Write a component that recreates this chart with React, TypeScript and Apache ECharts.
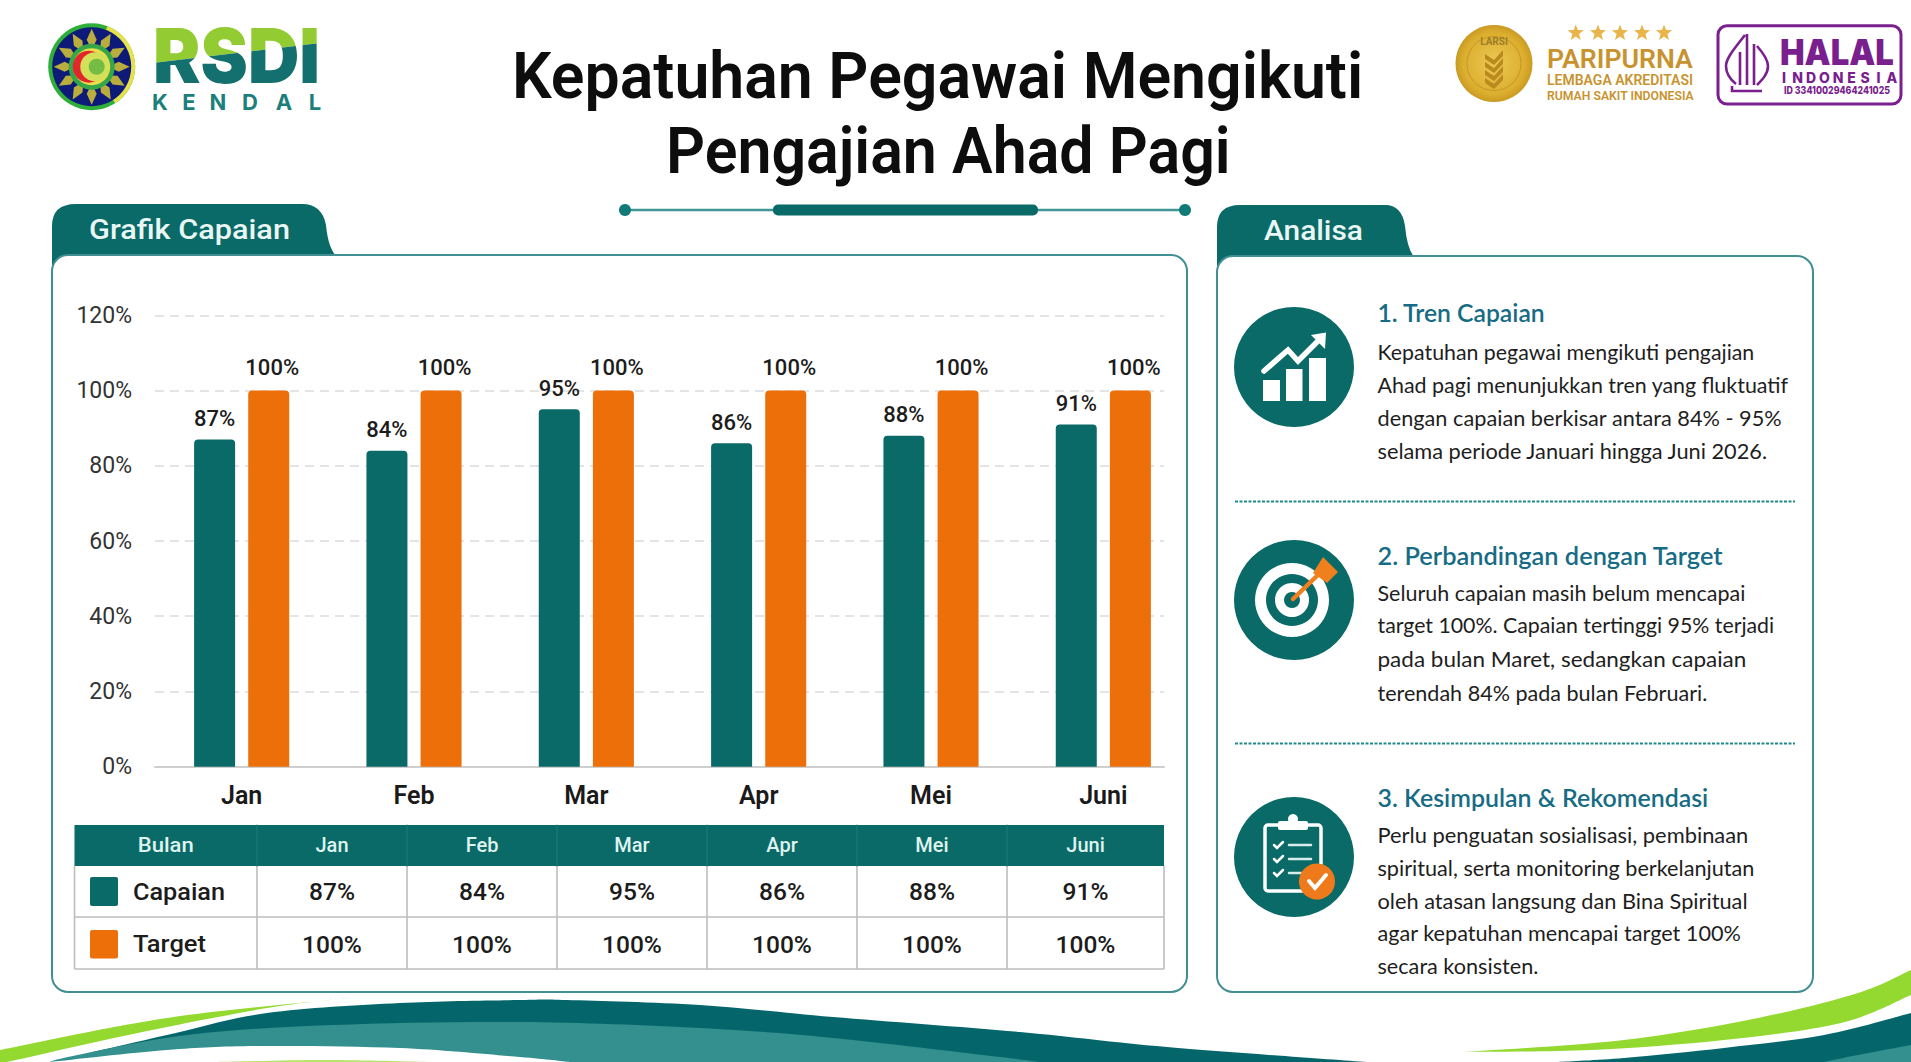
import React, { useEffect, useRef } from "react";
import * as echarts from "echarts";

const categories = ["Jan", "Feb", "Mar", "Apr", "Mei", "Juni"];
const capaian = [87, 84, 95, 86, 88, 91];
const target = [100, 100, 100, 100, 100, 100];
const legendLabels = ["Capaian", "Target"];
const headerFirst = "Bulan";
const titleLines = ["Kepatuhan Pegawai Mengikuti", "Pengajian Ahad Pagi"];
const analysisHeads = ["1. Tren Capaian", "2. Perbandingan dengan Target", "3. Kesimpulan & Rekomendasi"];
const analysis1 = [
  "Kepatuhan pegawai mengikuti pengajian",
  "Ahad pagi menunjukkan tren yang fluktuatif",
  "dengan capaian berkisar antara 84% - 95%",
  "selama periode Januari hingga Juni 2026.",
];
const analysis2 = [
  "Seluruh capaian masih belum mencapai",
  "target 100%. Capaian tertinggi 95% terjadi",
  "pada bulan Maret, sedangkan capaian",
  "terendah 84% pada bulan Februari.",
];
const analysis3 = [
  "Perlu penguatan sosialisasi, pembinaan",
  "spiritual, serta monitoring berkelanjutan",
  "oleh atasan langsung dan Bina Spiritual",
  "agar kepatuhan mencapai target 100%",
  "secara konsisten.",
];

const TEAL = "#0a6a67";
const ORANGE = "#ec6f0a";
const BORDER = "#418f92";
const GREEN = "#93d92f";
const GOLD = "#c8932e";
const PURPLE = "#7a1f8e";

type P = [number, number];
const curve = (pts: P[]) => {
  let d = "";
  for (let i = 0; i < pts.length - 1; i++) {
    const p0 = pts[Math.max(0, i - 1)];
    const p1 = pts[i];
    const p2 = pts[i + 1];
    const p3 = pts[Math.min(pts.length - 1, i + 2)];
    const c1: P = [p1[0] + (p2[0] - p0[0]) / 6, p1[1] + (p2[1] - p0[1]) / 6];
    const c2: P = [p2[0] - (p3[0] - p1[0]) / 6, p2[1] - (p3[1] - p1[1]) / 6];
    d += `C${c1[0]} ${c1[1]} ${c2[0]} ${c2[1]} ${p2[0]} ${p2[1]} `;
  }
  return d;
};
const blob = (a: P[], b: P[]) => `M${a[0][0]} ${a[0][1]} ${curve(a)}L${b[0][0]} ${b[0][1]} ${curve(b)}Z`;

const shapes: Record<string, string> = {
  tabL: "M52 276 L52 226 Q52 204 76 204 L302 204 Q322 204 326 225 Q328 247 336 256 L52 276 Z",
  tabR: "M1217 276 L1217 227 Q1217 205 1240 205 L1385 205 Q1402 205 1405 226 Q1407 248 1414 257 L1217 276 Z",
  waveDark: blob(
    [[50, 1062], [167, 1035], [267, 1013], [400, 1003], [520, 1000], [567, 1000], [700, 1005], [833, 1017], [1020, 1032], [1167, 1047], [1367, 1062]],
    [[1367, 1062], [50, 1062]]
  ),
  waveLight: blob(
    [[50, 1062], [73, 1056], [187, 1035], [333, 1025], [520, 1022], [700, 1028], [833, 1038], [1000, 1057], [1040, 1062]],
    [[1040, 1062], [570, 1062]]
  ),
  waveWhite: blob(
    [[50, 1062], [167, 1050], [260, 1046], [400, 1048], [520, 1057], [570, 1062]],
    [[570, 1062], [50, 1062]]
  ),
  swooshL: blob(
    [[0, 1050], [167, 1018], [350, 998]],
    [[350, 998], [267, 1008], [133, 1034], [7, 1062], [0, 1062]]
  ),
  sliver: blob(
    [[217, 1062], [325, 1060], [433, 1062]],
    [[433, 1062], [217, 1062]]
  ),
  swooshR: blob(
    [[1464, 1052], [1624, 1040], [1758, 1018], [1858, 993], [1911, 970]],
    [[1911, 995], [1841, 1023], [1724, 1040], [1591, 1050], [1464, 1052]]
  ),
  waveRDark: blob(
    [[1558, 1062], [1624, 1058], [1724, 1048], [1824, 1035], [1911, 1013]],
    [[1911, 1062], [1558, 1062]]
  ),
  waveRLight: blob(
    [[1824, 1062], [1858, 1055], [1911, 1045]],
    [[1911, 1062], [1824, 1062]]
  ),
  halal:
    "M1745 35 C1735 48 1726 58 1726 66 C1726 74 1731 80 1736 84 M1740 52 L1740 85 M1747 34 L1747 85 M1754 44 L1754 85 M1757 46 C1764 54 1768 60 1768 66 C1768 74 1762 80 1757 85 M1732 86 L1732 91 L1762 91",
};
Object.keys(shapes).forEach((k) => {
  (echarts.graphic as any).registerShape(k, (echarts.graphic as any).extendPath(shapes[k], {}));
});

const measureCtx = document.createElement("canvas").getContext("2d")!;
const widthOf = (s: string, size: number, weight: number | string, family: string) => {
  measureCtx.font = `${weight} ${size}px "${family}"`;
  return measureCtx.measureText(s).width;
};

const T = (
  x: number,
  y: number,
  text: string,
  o: { size: number; weight?: number | string; family?: string; fill?: string; align?: string; w?: number; sx?: number }
) => {
  const family = o.family || "Roboto";
  const weight = o.weight || 400;
  const sx = o.sx ?? (o.w ? o.w / widthOf(text, o.size, weight, family) : 1);
  return {
    type: "text",
    x,
    y,
    scaleX: sx,
    silent: true,
    style: {
      text,
      fill: o.fill || "#1c1c1c",
      fontSize: o.size,
      fontWeight: weight,
      fontFamily: family,
      align: o.align || "left",
      textAlign: o.align || "left",
      verticalAlign: "middle",
      textVerticalAlign: "middle",
    },
  };
};
const R = (x: number, y: number, w: number, h: number, style: any, r: any = 0) => ({
  type: "rect",
  silent: true,
  shape: { x, y, width: w, height: h, r },
  style,
});
const C = (cx: number, cy: number, r: number, style: any) => ({ type: "circle", silent: true, shape: { cx, cy, r }, style });
const L = (x1: number, y1: number, x2: number, y2: number, stroke: string, lineWidth: number, lineDash?: number[]) => ({
  type: "line",
  silent: true,
  shape: { x1, y1, x2, y2 },
  style: { stroke, lineWidth, lineDash, lineCap: lineDash ? "butt" : "round" },
});
const PG = (points: number[][], fill: string) => ({ type: "polygon", silent: true, shape: { points }, style: { fill } });
const PL = (points: number[][], stroke: string, lineWidth: number) => ({
  type: "polyline",
  silent: true,
  shape: { points },
  style: { stroke, lineWidth, fill: "none", lineCap: "round", lineJoin: "miter" },
});
const S = (type: string, style: any) => ({ type, x: 0, y: 0, silent: true, style });

const star = (cx: number, cy: number, r: number) => {
  const pts: number[][] = [];
  for (let i = 0; i < 10; i++) {
    const a = -Math.PI / 2 + (i * Math.PI) / 5;
    const rr = i % 2 ? r * 0.42 : r;
    pts.push([cx + rr * Math.cos(a), cy + rr * Math.sin(a)]);
  }
  return PG(pts, "#e9b44a");
};

function buildGraphic() {
  const els: any[] = [];

  // bottom waves
  els.push(S("waveDark", { fill: "#04666a" }));
  els.push(S("waveLight", { fill: "#348f8f" }));
  els.push(S("waveWhite", { fill: "#ffffff" }));
  els.push(S("sliver", { fill: "#b5e46a" }));
  els.push(S("swooshL", { fill: GREEN }));
  els.push(S("swooshR", { fill: GREEN }));
  els.push(S("waveRDark", { fill: "#04666a" }));
  els.push(S("waveRLight", { fill: "#348f8f" }));

  // panels and tabs
  els.push(S("tabL", { fill: TEAL }));
  els.push(S("tabR", { fill: TEAL }));
  els.push(R(52, 255, 1135, 737, { fill: "#fff", stroke: BORDER, lineWidth: 2 }, 16));
  els.push(R(1217, 256, 596, 736, { fill: "#fff", stroke: BORDER, lineWidth: 2 }, 16));
  els.push(T(89, 229, "Grafik Capaian", { size: 28, weight: 500, fill: "#eaf6f4", w: 201 }));
  els.push(T(1264, 230, "Analisa", { size: 28, weight: 500, fill: "#eaf6f4", w: 99 }));

  // title
  els.push(T(512, 76, titleLines[0], { size: 65, weight: 600, fill: "#0d0d0d", w: 851 }));
  els.push(T(666, 151, titleLines[1], { size: 65, weight: 600, fill: "#0d0d0d", w: 565 }));
  els.push(L(625, 210, 1185, 210, "#3f9694", 2.5));
  els.push(R(773, 204.5, 265, 11, { fill: TEAL }, 5));
  els.push(C(625, 210, 6, { fill: "#0f7a76" }));
  els.push(C(1185, 210, 6, { fill: "#0f7a76" }));

  // left emblem
  const ex = 91.7, ey = 66.7;
  els.push(C(ex, ey, 43.5, { fill: "#2fae3a" }));
  els.push({ type: "sector", silent: true, shape: { cx: ex, cy: ey, r: 43.5, r0: 39, startAngle: -1.2, endAngle: 1.0 }, style: { fill: "#e8e24a" } });
  els.push(C(ex, ey, 39.5, { fill: "#0d1a78" }));
  for (let i = 0; i < 12; i++) {
    const a = (i * Math.PI) / 6 - Math.PI / 2;
    const n = a + Math.PI / 2;
    const bx = ex + 21 * Math.cos(a), by = ey + 21 * Math.sin(a);
    const mx = ex + 27 * Math.cos(a), my = ey + 27 * Math.sin(a);
    els.push(
      PG(
        [
          [bx + 2 * Math.cos(n), by + 2 * Math.sin(n)],
          [mx + 5 * Math.cos(n), my + 5 * Math.sin(n)],
          [ex + 38 * Math.cos(a), ey + 38 * Math.sin(a)],
          [mx - 5 * Math.cos(n), my - 5 * Math.sin(n)],
          [bx - 2 * Math.cos(n), by - 2 * Math.sin(n)],
        ],
        "#b9ad3d"
      )
    );
  }
  els.push(C(ex, ey, 23, { fill: "#35a748" }));
  els.push(C(ex, ey, 18.5, { fill: "#e8dd4c" }));
  els.push(C(ex - 3, ey, 16, { fill: "#e2272c" }));
  els.push(C(ex + 3, ey, 14.5, { fill: "#d2e05a" }));
  els.push(C(ex + 5, ey, 8, { fill: "#73bd45" }));

  ["K", "E", "N", "D", "A", "L"].forEach((c, i) => {
    els.push(T([160, 189, 218, 250, 284, 315][i], 102, c, { size: 22, weight: 700, family: "Inter", fill: "#1b7f7c", align: "center" }));
  });

  // LARSI coin
  const cx = 1494, cy = 63.5;
  els.push(C(cx, cy, 38.5, { fill: new (echarts.graphic as any).RadialGradient(0.5, 0.5, 0.5, [{ offset: 0, color: "#ecc954" }, { offset: 0.8, color: "#dcae2e" }, { offset: 1, color: "#c99a22" }]) }));
  els.push(C(cx, cy, 27, { fill: "none", stroke: "#c4962a", lineWidth: 1 }));
  els.push(T(cx, 41, "LARSI", { size: 10, weight: 700, fill: "#9d7d28", align: "center" }));
  [54, 62, 70, 78].forEach((y) => {
    els.push(PG([[cx - 9, y], [cx, y + 6], [cx + 9, y - 4], [cx + 9, y + 2], [cx, y + 11], [cx - 9, y + 5]], "#b98a1e"));
  });
  [1575.7, 1598, 1620, 1642, 1664].forEach((x) => els.push(star(x, 33, 8.5)));
  els.push(T(1547, 59, "PARIPURNA", { size: 25, weight: 600, fill: GOLD, w: 146 }));
  els.push(T(1547, 80, "LEMBAGA AKREDITASI", { size: 14, weight: 600, fill: GOLD, w: 146 }));
  els.push(T(1547, 95.6, "RUMAH SAKIT INDONESIA", { size: 12.5, weight: 600, fill: GOLD, w: 147 }));

  // Halal badge
  els.push(R(1718, 25.7, 183, 78.3, { fill: "#fff", stroke: PURPLE, lineWidth: 3 }, 9));
  els.push(S("halal", { fill: "none", stroke: PURPLE, lineWidth: 2.6 }));
  els.push(T(1780, 52, "HALAL", { size: 36, weight: 900, family: "Inter", fill: PURPLE, w: 114 }));
  "INDONESIA".split("").forEach((c, i) => {
    els.push(T(1784 + i * 13.5, 77, c, { size: 14, weight: 800, family: "Inter", fill: PURPLE, align: "center" }));
  });
  els.push(T(1837, 90, "ID 33410029464241025", { size: 10.5, weight: 800, family: "Inter", fill: PURPLE, align: "center", w: 106 }));

  // table
  const colX = [74.5, 257, 407, 557, 707, 857, 1007, 1164];
  const rowY = [865.5, 917, 969];
  const mid = (i: number) => (colX[i] + colX[i + 1]) / 2;
  els.push(R(74.5, 825, 1089.5, 41, { fill: TEAL }));
  const grid = "#bdbdbd";
  rowY.forEach((y, i) => i > 0 && els.push(L(74.5, y, 1164, y, grid, 1.6, [])));
  colX.forEach((x) => els.push(L(x, 866, x, 969, grid, 1.6, [])));
  [257, 407, 557, 707, 857, 1007].forEach((x) => els.push(L(x, 825, x, 866, "#1d7c78", 1)));
  els.push(T(mid(0), 845, headerFirst, { size: 20, weight: 500, fill: "#dff3ef", align: "center", w: 56 }));
  categories.forEach((c, i) => {
    els.push(T(mid(i + 1), 845, c, { size: 20, weight: 500, fill: "#dff3ef", align: "center" }));
    els.push(T(mid(i + 1), 891, `${capaian[i]}%`, { size: 24.5, weight: 500, align: "center" }));
    els.push(T(mid(i + 1), 944, `${target[i]}%`, { size: 24.5, weight: 500, align: "center" }));
  });
  els.push(R(90, 877, 28, 29, { fill: TEAL }, 2));
  els.push(R(90, 930, 28, 28.5, { fill: ORANGE }, 2));
  els.push(T(133, 891.5, legendLabels[0], { size: 24, weight: 500, w: 92 }));
  els.push(T(133, 944, legendLabels[1], { size: 24, weight: 500, w: 73 }));

  // analysis text
  const headW = [168, 346, 331];
  [313, 556, 798].forEach((y, i) =>
    els.push(T(1377.5, y, analysisHeads[i], { size: 24, weight: 600, family: "Lato", fill: "#176c85", w: headW[i] }))
  );
  const body = (lines: string[], ys: number[], ws: number[]) =>
    lines.forEach((s, i) => els.push(T(1377.5, ys[i], s, { size: 21, family: "Lato", fill: "#1e1e1e", w: ws[i] })));
  body(analysis1, [352, 385, 418, 451], [377, 411, 405, 391]);
  body(analysis2, [593.5, 625, 659, 693], [368, 397, 369, 330]);
  body(analysis3, [835, 868, 900.7, 933.6, 966.5], [371, 377, 370, 364, 161]);
  els.push(L(1235, 501.5, 1795, 501.5, "#1f8a85", 2, [3, 1.5]));
  els.push(L(1235, 743.5, 1795, 743.5, "#1f8a85", 2, [3, 1.5]));

  // icon 1
  els.push(C(1294, 367, 60, { fill: TEAL }));
  els.push(R(1263, 380, 17, 21, { fill: "#fff" }));
  els.push(R(1286, 369, 16.5, 32, { fill: "#fff" }));
  els.push(R(1309, 358, 17, 43, { fill: "#fff" }));
  els.push(PL([[1264, 371], [1288, 350], [1298, 361], [1320, 339]], "#fff", 5.5));
  els.push(PG([[1326, 332.5], [1311, 335], [1325, 349]], "#fff"));

  // icon 2
  els.push(C(1294, 600, 60, { fill: TEAL }));
  els.push(C(1292, 600, 37, { fill: "#fff" }));
  els.push(C(1292, 600, 26, { fill: TEAL }));
  els.push(C(1292, 600, 17, { fill: "#fff" }));
  els.push(C(1292, 600, 8, { fill: TEAL }));
  els.push(L(1293, 599, 1320, 573, "#f07f1e", 4.5));
  els.push(PG([[1323, 557], [1338, 572], [1327, 583], [1313, 573]], "#f07f1e"));

  // icon 3
  els.push(C(1294, 857, 60, { fill: TEAL }));
  els.push(R(1265, 825, 56, 66, { fill: "none", stroke: "#fff", lineWidth: 3.5 }, 3));
  els.push(R(1278, 821, 30, 9, { fill: "#fff" }, 2));
  els.push(C(1293, 819, 5, { fill: "#fff" }));
  [845, 859, 873].forEach((y, i) => {
    els.push(PL([[1274, y], [1277, y + 3], [1283, y - 3]], "#fff", 2.5));
    els.push(L(1289, y, i === 2 ? 1301 : 1311, y, "#d8ecea", 2.5));
  });
  els.push(C(1317, 881.5, 18, { fill: "#ef7a1c" }));
  els.push(PL([[1309, 881], [1315, 888], [1326, 875]], "#fff", 4));

  return els;
}

// Two-tone wordmark: the same real text, clipped above and below a slanted line.
const wordmark = "RSDI";
function renderWordmark() {
  const sx = 167 / widthOf(wordmark, 76, 900, "Inter");
  const piece = (fill: string, points: number[][]) => ({
    type: "group",
    clipPath: { type: "polygon", shape: { points } },
    children: [
      {
        type: "text",
        x: 153,
        y: 56,
        scaleX: sx,
        silent: true,
        style: { text: wordmark, fill, fontSize: 76, fontWeight: 900, fontFamily: "Inter", align: "left", verticalAlign: "middle" },
      },
    ],
  });
  return {
    type: "group",
    children: [
      piece("#93cc32", [[140, 0], [335, 0], [335, 41.2], [140, 64.6]]),
      piece("#13706e", [[140, 64.6], [335, 41.2], [335, 100], [140, 100]]),
    ],
  };
}

export default function App() {
  const ref = useRef<HTMLDivElement>(null);
  useEffect(() => {
    document.body.style.margin = "0";
    document.documentElement.style.overflow = "hidden";
    const chart = echarts.init(ref.current!, undefined, { renderer: "svg" });
    const labelStyle = { show: true, position: "top", formatter: "{c}%", fontFamily: "Roboto", fontSize: 22, fontWeight: 500, color: "#1c1c1c" };
    chart.setOption({
      animation: false,
      backgroundColor: "#ffffff",
      graphic: { z: -1, elements: buildGraphic() },
      grid: [
        { left: 155.5, top: 315.3, width: 1034, height: 451.4, containLabel: false },
        { left: 155, top: 315.3, width: 1009, height: 451.4, containLabel: false },
      ],
      xAxis: [
        {
          type: "category",
          gridIndex: 0,
          data: categories,
          axisLine: { show: false },
          axisTick: { show: false },
          axisLabel: { fontFamily: "Roboto", fontSize: 25, fontWeight: 600, color: "#1a1a1a", margin: 16 },
        },
        {
          type: "category",
          gridIndex: 1,
          data: categories,
          axisLine: { show: true, lineStyle: { color: "#cfcfcf", width: 2 } },
          axisTick: { show: false },
          axisLabel: { show: false },
        },
      ],
      yAxis: [
        { type: "value", gridIndex: 0, min: 0, max: 120, interval: 20, show: false, splitLine: { show: false } },
        {
          type: "value",
          gridIndex: 1,
          min: 0,
          max: 120,
          interval: 20,
          axisLine: { show: false },
          axisTick: { show: false },
          axisLabel: { formatter: "{value}%", margin: 23, fontFamily: "Roboto", fontSize: 23, color: "#333333" },
          splitLine: { show: true, lineStyle: { color: "#dcdcdc", width: 1.5, type: [9, 6] } },
        },
      ],
      series: [
        {
          name: "Capaian",
          type: "bar",
          xAxisIndex: 0,
          yAxisIndex: 0,
          data: capaian,
          barWidth: 41,
          barGap: "32%",
          itemStyle: { color: TEAL, borderRadius: [4, 4, 0, 0] },
          label: { ...labelStyle, distance: 10 },
        },
        {
          name: "Target",
          type: "bar",
          xAxisIndex: 0,
          yAxisIndex: 0,
          data: target,
          barWidth: 41,
          barGap: "32%",
          itemStyle: { color: ORANGE, borderRadius: [4, 4, 0, 0] },
          label: { ...labelStyle, distance: 12, offset: [3.5, 0] },
        },
        {
          type: "custom",
          coordinateSystem: "none",
          silent: true,
          data: [0],
          renderItem: renderWordmark,
        },
      ],
    });
    return () => chart.dispose();
  }, []);
  return <div ref={ref} style={{ width: 1911, height: 1062 }} />;
}
